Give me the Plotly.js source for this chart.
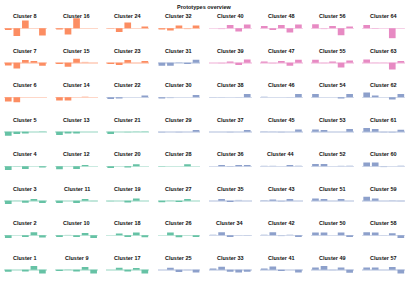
<!DOCTYPE html>
<html><head><meta charset="utf-8">
<script src="https://cdn.plot.ly/plotly-3.0.1.min.js"></script>
<style>body{margin:0;background:#fff}#chart{width:409px;height:289px}</style>
</head><body><div id="chart"></div>
<script>
// feature positions inside each prototype
const features = [0, 1, 2, 3, 4];
// group of each cluster (1..64): 0 orange, 1 green, 2 blue, 3 pink
const clusterGroup = [
  1,1,1,1,1,0,0,0,
  1,1,1,1,1,0,0,0,
  1,1,1,1,1,2,0,0,
  2,1,1,1,2,2,2,0,
  2,2,2,2,2,2,3,3,
  2,2,2,2,2,2,3,3,
  2,2,2,2,2,2,3,3,
  2,2,2,2,2,2,3,3
];
// prototype values, clusters 1..8
const clusters01_08 = [
  [-0.2, 0, -0.17, 0.37, -0.37],
  [-0.27, 0, -0.17, 0.3, -0.23],
  [-0.33, -0.03, -0.2, 0.17, -0.23],
  [-0.37, -0.05, -0.27, 0, -0.13],
  [-0.4, -0.23, -0.17, 0, 0.07],
  [-0.43, -0.5, 0, 0, 0],
  [-0.27, -0.57, 0.27, 0.17, -0.3],
  [-0.17, -0.77, 0.77, 0.0, -0.73]
];
const clusters09_16 = [
  [-0.13, 0.05, -0.17, 0.27, -0.37],
  [-0.17, 0.05, -0.17, 0.23, -0.27],
  [-0.23, 0, -0.23, 0.17, -0.05],
  [-0.3, 0, -0.27, 0.13, 0],
  [-0.33, -0.17, -0.17, 0, 0],
  [-0.33, -0.33, 0, 0.1, 0],
  [-0.13, -0.4, 0.4, 0.1, 0],
  [-0.13, -0.63, 1.0, 0, 0]
];
const clusters17_24 = [
  [0, 0.2, -0.17, 0.17, -0.37],
  [0, 0.17, -0.17, 0.27, -0.2],
  [-0.07, 0, -0.17, 0.23, 0],
  [-0.17, 0, -0.13, 0.2, 0],
  [-0.23, 0, -0.07, 0.05, 0.07],
  [-0.17, -0.13, 0, 0, 0.17],
  [-0.13, -0.23, 0.27, 0, 0.17],
  [-0.07, -0.37, 0.57, 0, 0.17]
];
const clusters25_32 = [
  [0, 0.2, -0.23, -0.05, -0.27],
  [0, 0.27, -0.2, 0.03, -0.17],
  [-0.15, 0.05, -0.13, 0.17, 0],
  [-0.07, 0, 0, 0.2, 0],
  [-0.1, 0, -0.07, 0, 0.17],
  [-0.13, -0.1, 0, 0, 0.23],
  [-0.3, -0.3, 0.07, -0.13, 0.3],
  [-0.13, -0.23, 0.27, -0.1, 0.27]
];
const clusters33_40 = [
  [0.13, 0.3, -0.2, -0.27, -0.2],
  [0.1, 0.3, -0.17, -0.03, -0.05],
  [0, 0.17, -0.13, 0.1, 0],
  [0, 0.13, -0.07, 0.13, 0.13],
  [0, 0, -0.07, 0, 0.17],
  [0.02, -0.02, 0.01, -0.03, 0.33],
  [0, -0.07, 0.13, -0.23, 0.33],
  [0, -0.1, 0.33, -0.33, 0.37]
];
const clusters41_48 = [
  [0.13, 0.33, -0.13, 0, -0.27],
  [0.1, 0.3, -0.1, 0.1, -0.17],
  [0.07, 0.13, -0.1, 0.17, 0],
  [0.07, 0.07, 0, 0.13, 0.1],
  [0.05, 0.03, -0.07, 0, 0.23],
  [0.1, 0, 0, -0.03, 0.33],
  [0.13, -0.07, 0.17, -0.3, 0.3],
  [0.23, -0.17, 0.33, -0.43, 0.37]
];
const clusters49_56 = [
  [0.23, 0.37, -0.05, 0.23, -0.3],
  [0.27, 0.27, 0, 0.27, -0.17],
  [0.23, 0.17, 0, 0.17, 0],
  [0.23, 0.23, 0, 0.07, 0.1],
  [0.23, 0.17, 0, 0, 0.27],
  [0.33, 0, 0, -0.13, 0.33],
  [0.3, -0.05, 0.13, -0.47, 0.23],
  [0.4, -0.1, 0.23, -0.7, 0.17]
];
const clusters57_64 = [
  [0.23, 0.23, 0, 0.27, -0.37],
  [0.3, 0.27, 0.03, 0.2, -0.27],
  [0.4, 0.23, 0, 0.05, -0.05],
  [0.37, 0.37, -0.1, 0, 0.1],
  [0.37, 0.27, -0.07, -0.1, 0.2],
  [0.47, 0.17, 0, -0.23, 0.33],
  [0.33, -0.03, -0.03, -0.67, 0.17],
  [0.33, -0.07, 0, -1.0, 0.03]
];
const chartTitle = 'Prototypes overview';

const prototypes = [].concat(clusters01_08, clusters09_16, clusters17_24, clusters25_32,
  clusters33_40, clusters41_48, clusters49_56, clusters57_64);

const W = 409, H = 289;
const colLeft = 4, colW = 42.7, colPitch = 51.2;
const row0Zero = 28.3, rowPitch = 34.5, half = 10.5;
const strong = ['#fc8d62', '#66c2a5', '#8da0cb', '#e78ac3'];
const weak = ['rgba(252,141,98,0.35)', 'rgba(102,194,165,0.35)', 'rgba(141,160,203,0.35)', 'rgba(231,138,195,0.35)'];

const data = [];
const layout = {
  width: W, height: H,
  margin: {l: 0, r: 0, t: 0, b: 0},
  paper_bgcolor: '#fff', plot_bgcolor: 'rgba(0,0,0,0)',
  showlegend: false,
  bargap: 0.22,
  annotations: [{
    text: '<b>' + chartTitle + '</b>', xref: 'paper', yref: 'paper', x: 204.5 / W, y: 1 - 7 / H,
    xanchor: 'center', yanchor: 'middle', showarrow: false,
    font: {family: 'Liberation Sans, Arial, sans-serif', size: 5.5, color: '#111'}
  }]
};

prototypes.forEach((vals, i) => {
  const n = i + 1;
  const col = Math.floor(i / 8);
  const row = 7 - (i % 8);
  const g = clusterGroup[i];
  const k = n === 1 ? '' : String(n);
  const x0 = colLeft + col * colPitch;
  const zero = row0Zero + row * rowPitch;
  data.push({
    type: 'bar', x: features, y: vals,
    xaxis: 'x' + k, yaxis: 'y' + k,
    marker: {color: vals.map(v => Math.abs(v) >= 0.12 ? strong[g] : weak[g]), line: {width: 0}},
    hoverinfo: 'skip'
  });
  layout['xaxis' + k] = {
    domain: [x0 / W, (x0 + colW) / W], range: [-0.5, 4.5],
    showticklabels: false, showgrid: false, zeroline: false, showline: false, ticks: '',
    anchor: 'y' + k, fixedrange: true
  };
  layout['yaxis' + k] = {
    domain: [1 - (zero + half) / H, 1 - (zero - half) / H], range: [-1.05, 1.05],
    showticklabels: false, showgrid: false, zeroline: true, zerolinecolor: weak[g], zerolinewidth: 1.5,
    showline: false, ticks: '', anchor: 'x' + k, fixedrange: true
  };
  layout.annotations.push({
    text: '<b>Cluster ' + n + '</b>', xref: 'paper', yref: 'paper',
    x: (x0 + colW / 2) / W, y: 1 - (zero - 12.3) / H,
    xanchor: 'center', yanchor: 'middle', showarrow: false,
    font: {family: 'Liberation Sans, Arial, sans-serif', size: 5.5, color: '#111'}
  });
});

Plotly.newPlot('chart', data, layout, {staticPlot: true, displayModeBar: false});
</script>
</body></html>
